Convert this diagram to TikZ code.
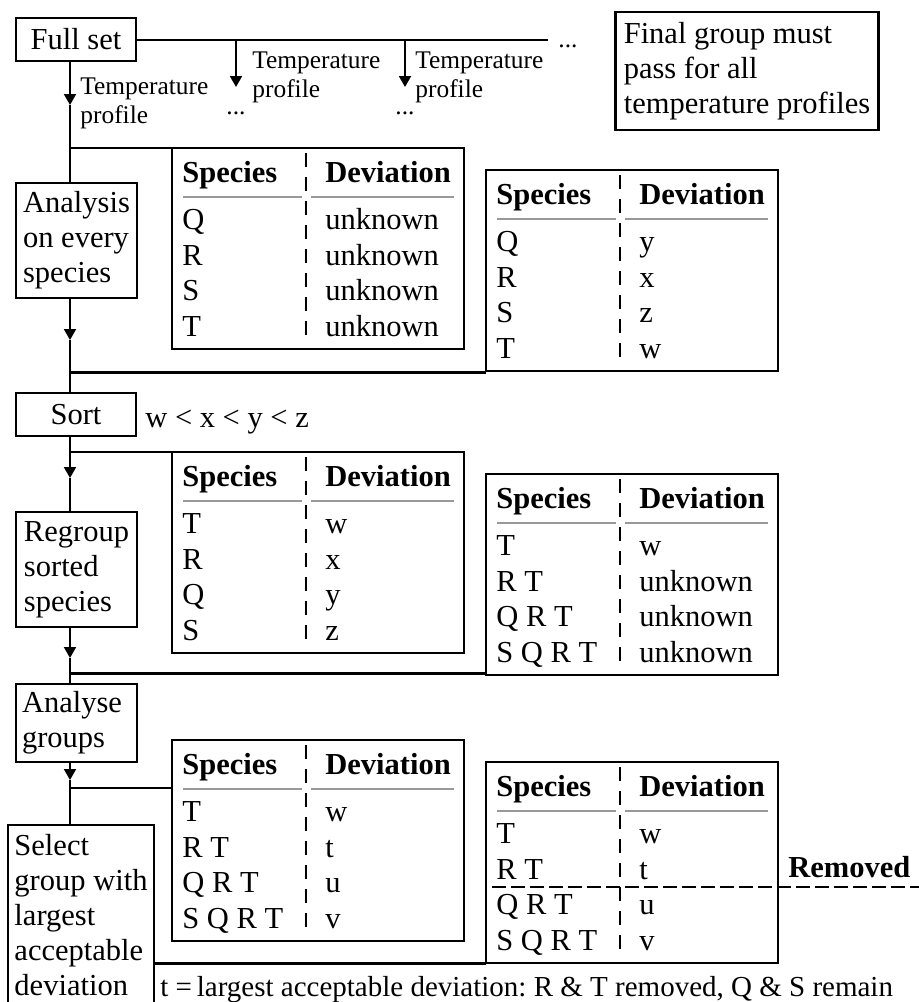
\documentclass[tikz,border=0pt]{standalone}
\usepackage{fontspec}
\setmainfont{Liberation Serif}
\usepackage{xcolor}
\usepackage{tikz}
\usetikzlibrary{arrows.meta}
\usetikzlibrary{positioning}
\frenchspacing
\tikzset{
    procbox/.style = {rectangle, draw=black, line width=1pt, inner sep=3pt, outer sep=0pt, align=left},
    notebox/.style = {rectangle, draw=black, line width=1.3pt, inner sep=4pt, outer sep=0pt, align=left},
    tframe/.style = {rectangle, draw=black, line width=1.3pt, anchor=north west, minimum width=146pt, minimum height=100.5pt, inner sep=0pt, outer sep=0pt},
    cell/.style = {anchor=base west, inner sep=0pt},
    head/.style = {cell, font=\fontsize{15.25}{17.5}\selectfont\bfseries},
    lbl/.style = {anchor=west, align=left, inner sep=0pt, font=\fontsize{12.7}{14.5}\selectfont},
}
\begin{document}
\begin{tikzpicture}[
	x=0.5pt,
	y=-0.5pt,
	font=\fontsize{15.25}{17.5}\selectfont
]
\tikzset{
    flow/.style = {line width=1pt},
    flowb/.style = {line width=1.5pt},
    arr/.style = {line width=1pt, -{Triangle[length=5.5pt,width=6pt]}},
    hrule/.style = {black!40, line width=0.7pt},
    coldash/.style = {line width=1.2pt, dash pattern=on 7pt off 5pt},
    cutline/.style = {line width=1pt, dash pattern=on 7pt off 2.5pt},
    spectable/.pic = {
        \node[tframe] at (0,0) (-frame) {};
        \node[head] at (10,34) (-hs) {Species};
        \node[head] at (153,34) (-hd) {Deviation};
        \draw[hrule] (11,49) -- (130,49);
        \draw[hrule] (139,49) -- (282,49);
        \draw[coldash] (134,5) -- (134,191);
        \foreach \s/\d [count=\i] in {#1} {
            \node[cell] at (10,{46+35.5*\i}) (-s\i) {\s};
            \node[cell] at (153,{46+35.5*\i}) (-d\i) {\d};
        }
    }
}
\useasboundingbox (0,0) rectangle (919,1002);
%
\node[procbox, minimum width=60pt, minimum height=21.5pt] at (76,39.5) (full) {Full set};
\node[notebox, minimum width=130pt, minimum height=59pt] at (747,71) (final) {Final group must\\pass for all\\temperature profiles};
\node[procbox, minimum width=60.5pt, minimum height=57.5pt] at (76.5,240.5) (analysis) {Analysis\\on every\\species};
\node[procbox, minimum width=60pt, minimum height=21.5pt] at (76,414.5) (sort) {Sort};
\node[procbox, minimum width=60.5pt, minimum height=57.5pt] at (76.5,569.5) (regroup) {Regroup\\sorted\\species};
\node[procbox, text width=54.5pt, minimum height=39pt] at (76.5,723) (analyse) {Analyse\\groups};
\node[procbox, minimum width=73pt, minimum height=90.5pt] at (81,915.5) (select) {Select\\group with\\largest\\acceptable\\deviation};
%
\node[lbl] at (80,103) (tp0) {Temperature\\profile};
\node[lbl] at (252,77) (tp1) {Temperature\\profile};
\node[lbl] at (415,77) (tp2) {Temperature\\profile};
\node[lbl, anchor=center] at (236,113) (dots1) {...};
\node[lbl, anchor=center] at (405,113) (dots2) {...};
\node[lbl, anchor=center] at (568,46) (dots3) {...};
\node[cell] at (145,427) (order) {w < x < y < z};
\node[cell, font=\fontsize{14.5}{17}\selectfont] at (160,996) (note) {t =\,largest acceptable deviation: R \& T removed, Q \& S remain};
\node[head] at (788,877) (removed) {Removed};
%
\pic at (172,148) (t1) {spectable={Q/unknown, R/unknown, S/unknown, T/unknown}};
\pic at (486,170) (t2) {spectable={Q/y, R/x, S/z, T/w}};
\pic at (172,452) (t3) {spectable={T/w, R/x, Q/y, S/z}};
\pic at (486,474) (t4) {spectable={T/w, R T/unknown, Q R T/unknown, S Q R T/unknown}};
\pic at (172,740) (t5) {spectable={T/w, R T/t, Q R T/u, S Q R T/v}};
\pic at (486,762) (t6) {spectable={T/w, R T/t, Q R T/u, S Q R T/v}};
%
\coordinate (topend) at (548,39.5);
\coordinate (b1) at (236,39.5);
\coordinate (b1tip) at (236,87);
\coordinate (b2) at (405,39.5);
\coordinate (b2tip) at (405,87);
\coordinate (tip1) at (70,105);
\coordinate (j1) at (70,148);
\coordinate (tip2) at (70,340);
\coordinate (j2) at (70,372);
\coordinate (j3) at (70,452);
\coordinate (tip3) at (70,478);
\coordinate (tip4) at (70,658);
\coordinate (j4) at (70,673);
\coordinate (tip5) at (70,780);
\coordinate (j5) at (70,788);
\coordinate (cutl) at (492,887);
\coordinate (cutr) at (919,887);
%
\draw[flow] (full.east) -- (topend);
\draw[arr] (b1) -- (b1tip);
\draw[arr] (b2) -- (b2tip);
%
\draw[arr] (full.south -| tip1) -- (tip1);
\draw[flow] (tip1) -- (analysis.north -| tip1);
\draw[flow] (j1) -- (t1-frame.north west);
%
\draw[arr] (analysis.south -| tip2) -- (tip2);
\draw[flow] (tip2) -- (sort.north -| tip2);
\draw[flowb] (j2) -- (j2 -| t2-frame.south west);
%
\draw[arr] (sort.south -| tip3) -- (tip3);
\draw[flow] (tip3) -- (regroup.north -| tip3);
\draw[flow] (j3) -- (j3 -| t3-frame.north west);
%
\draw[arr] (regroup.south -| tip4) -- (tip4);
\draw[flow] (tip4) -- (analyse.north -| tip4);
\draw[flowb] (j4) -- (j4 -| t4-frame.south west);
%
\draw[arr] (analyse.south -| tip5) -- (tip5);
\draw[flow] (tip5) -- (select.north -| tip5);
\draw[flow] (j5) -- (j5 -| t5-frame.west);
\draw[flowb] (select.east |- t6-frame.south west) -- (t6-frame.south west);
%
\draw[cutline] (cutl) -- (cutr);
\end{tikzpicture}
\end{document}
